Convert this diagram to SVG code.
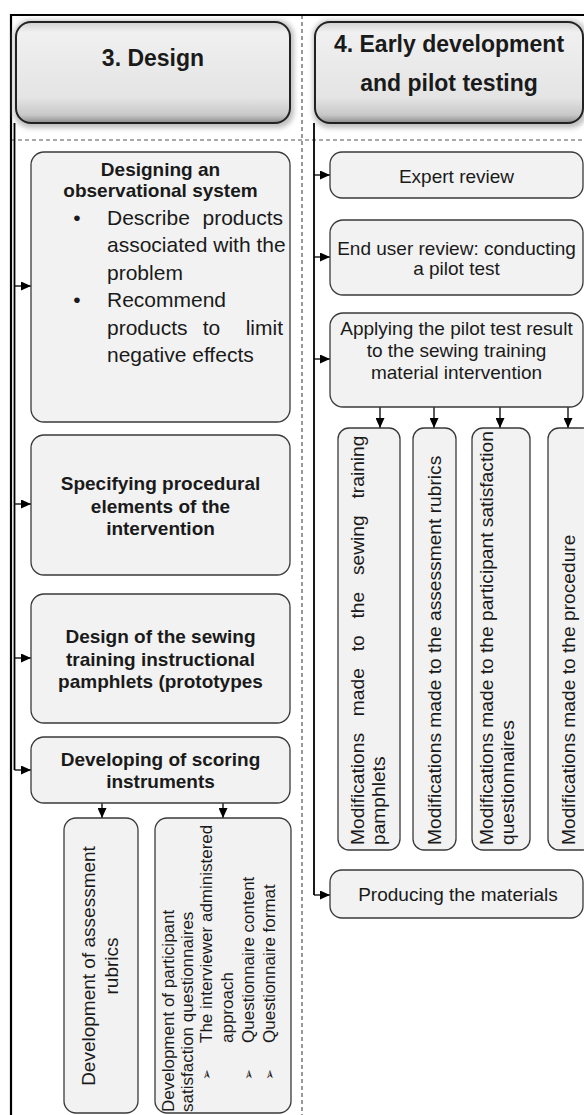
<svg xmlns="http://www.w3.org/2000/svg" width="584" height="1115" viewBox="0 0 584 1115">
<defs>
  <linearGradient id="hdrg" x1="0" y1="0" x2="0" y2="1">
    <stop offset="0" stop-color="#cfcfcf"/>
    <stop offset="0.1" stop-color="#f0f0f0"/>
    <stop offset="0.75" stop-color="#e4e4e4"/>
    <stop offset="0.92" stop-color="#c8c8c8"/>
    <stop offset="1" stop-color="#8c8c8c"/>
  </linearGradient>
  <filter id="sh" x="-10%" y="-20%" width="120%" height="140%">
    <feGaussianBlur stdDeviation="2.5"/>
  </filter>
  <marker id="ah" viewBox="0 0 10 9" refX="10" refY="4.5" markerWidth="10" markerHeight="9" markerUnits="userSpaceOnUse" orient="auto">
    <path d="M0,0 L10,4.5 L0,9 z" fill="#000"/>
  </marker>
</defs>
<style>
  .box{fill:#f2f2f2;stroke:#3a3a3a;stroke-width:1.3}
  .hdr{fill:url(#hdrg);stroke:#222;stroke-width:2}
  .shd{fill:#c0c0c0;filter:url(#sh)}
  .t{font-family:"Liberation Sans",Arial,sans-serif;fill:#1a1a1a}
  .h{font-size:23px;font-weight:bold;text-anchor:middle}
  .bt{font-size:19px;font-weight:bold;text-anchor:middle}
  .rt{font-size:19px;text-anchor:middle}
  .bl{font-size:21px}
  .mt{font-size:19.2px}
  .st{font-size:17px}
  .bul{font-family:"DejaVu Sans",sans-serif;font-size:13px;fill:#222}
  .con{fill:none;stroke:#000;stroke-width:1.8}
  .arr{fill:none;stroke:#000;stroke-width:1.3;marker-end:url(#ah)}
  .frame{fill:none;stroke:#000;stroke-width:2.2}
  .dash{fill:none;stroke:#555;stroke-width:1.2;stroke-dasharray:4 3}
</style>

<g id="frame">
  <path class="dash" d="M11,140 H584"/>
  <path class="dash" d="M302,15 V1115"/>
  <path class="frame" d="M11,1115 V15 H584"/>
</g>

<g id="header-design">
  <rect class="shd" x="14" y="20" width="280" height="108" rx="16"/>
  <rect class="hdr" x="16" y="22" width="274" height="101" rx="15"/>
  <text class="t h" x="153" y="66">3. Design</text>
</g>

<g id="header-early">
  <rect class="shd" x="313" y="20" width="274" height="108" rx="16"/>
  <rect class="hdr" x="315" y="22" width="268" height="101" rx="15"/>
  <text class="t h" x="449" y="52">4. Early development</text>
  <text class="t h" x="449" y="91">and pilot testing</text>
</g>

<g id="connectors">
  <path class="con" d="M14.5,123 V770"/>
  <path class="arr" d="M14.5,286 H31"/>
  <path class="arr" d="M14.5,504 H31"/>
  <path class="arr" d="M14.5,658 H31"/>
  <path class="arr" d="M14.5,770 H31"/>
  <path class="arr" d="M102,803 V818"/>
  <path class="arr" d="M223,803 V818"/>
  <path class="con" d="M314,123 V895"/>
  <path class="arr" d="M314,175 H330"/>
  <path class="arr" d="M314,257 H330"/>
  <path class="arr" d="M314,359 H330"/>
  <path class="arr" d="M314,895 H330"/>
  <path class="arr" d="M380,407 V428"/>
  <path class="arr" d="M434,407 V428"/>
  <path class="arr" d="M500,407 V428"/>
  <path class="arr" d="M568,407 V428"/>
</g>

<g id="designing-observational">
  <rect class="box" x="31" y="152" width="259" height="270" rx="13"/>
  <text class="t bt" x="160.5" y="176">Designing an</text>
  <text class="t bt" x="160.5" y="197">observational system</text>
  <text class="t bl" x="77" y="225" text-anchor="middle">•</text>
  <text class="t bl" x="107" y="225">Describe</text>
  <text class="t bl" x="283" y="225" text-anchor="end">products</text>
  <text class="t bl" x="107" y="252">associated with the</text>
  <text class="t bl" x="107" y="279.5">problem</text>
  <text class="t bl" x="77" y="307" text-anchor="middle">•</text>
  <text class="t bl" x="107" y="307">Recommend</text>
  <text class="t bl" x="107" y="334.5">products</text>
  <text class="t bl" x="211.5" y="334.5" text-anchor="middle">to</text>
  <text class="t bl" x="283" y="334.5" text-anchor="end">limit</text>
  <text class="t bl" x="107" y="362">negative effects</text>
</g>

<g id="specifying">
  <rect class="box" x="31" y="435" width="259" height="140" rx="13"/>
  <text class="t bt" x="160.5" y="490">Specifying procedural</text>
  <text class="t bt" x="160.5" y="512.5">elements of the</text>
  <text class="t bt" x="160.5" y="535">intervention</text>
</g>

<g id="design-pamphlets">
  <rect class="box" x="31" y="594" width="259" height="129" rx="13"/>
  <text class="t bt" x="160.5" y="642.5">Design of the sewing</text>
  <text class="t bt" x="160.5" y="665.5">training instructional</text>
  <text class="t bt" x="160.5" y="688">pamphlets (prototypes</text>
</g>

<g id="developing-scoring">
  <rect class="box" x="31" y="737" width="259" height="66" rx="13"/>
  <text class="t bt" x="160.5" y="766">Developing of scoring</text>
  <text class="t bt" x="160.5" y="788">instruments</text>
</g>

<g id="assessment-rubrics">
  <rect class="box" x="64" y="818" width="74" height="295" rx="12"/>
  <g transform="rotate(-90)">
    <text class="t rt" x="-966" y="95">Development of assessment</text>
    <text class="t rt" x="-966" y="118">rubrics</text>
  </g>
</g>

<g id="satisfaction-questionnaires">
  <rect class="box" x="155" y="818" width="136" height="295" rx="12"/>
  <g transform="rotate(-90)">
    <text class="t st" x="-1112" y="174">Development of participant</text>
    <text class="t st" x="-1112" y="193">satisfaction questionnaires</text>
    <text class="bul" x="-1080" y="211">➢</text>
    <text class="t st" x="-1043" y="212">The interviewer administered</text>
    <text class="t st" x="-1043" y="233">approach</text>
    <text class="bul" x="-1080" y="253">➢</text>
    <text class="t st" x="-1043" y="254">Questionnaire content</text>
    <text class="bul" x="-1080" y="274">➢</text>
    <text class="t st" x="-1043" y="275">Questionnaire format</text>
  </g>
</g>

<g id="expert-review">
  <rect class="box" x="330" y="152" width="253" height="46" rx="12"/>
  <text class="t rt" x="456.5" y="182.5">Expert review</text>
</g>

<g id="end-user-review">
  <rect class="box" x="330" y="220" width="253" height="75" rx="13"/>
  <text class="t rt" x="456.5" y="255">End user review: conducting</text>
  <text class="t rt" x="456.5" y="275">a pilot test</text>
</g>

<g id="applying-pilot">
  <rect class="box" x="330" y="313" width="253" height="94" rx="13"/>
  <text class="t rt" x="456.5" y="335">Applying the pilot test result</text>
  <text class="t rt" x="456.5" y="357">to the sewing training</text>
  <text class="t rt" x="456.5" y="378.5">material intervention</text>
</g>

<g id="mod-pamphlets">
  <rect class="box" x="338" y="428" width="62" height="422" rx="11"/>
  <g transform="rotate(-90)">
    <text class="t mt" x="-845" y="364" word-spacing="11.5">Modifications made to the sewing training</text>
    <text class="t mt" x="-845" y="385">pamphlets</text>
  </g>
</g>

<g id="mod-rubrics">
  <rect class="box" x="413" y="428" width="43" height="422" rx="11"/>
  <g transform="rotate(-90)">
    <text class="t mt" x="-845" y="441">Modifications made to the assessment rubrics</text>
  </g>
</g>

<g id="mod-questionnaires">
  <rect class="box" x="472" y="428" width="58" height="422" rx="11"/>
  <g transform="rotate(-90)">
    <text class="t mt" x="-845" y="493">Modifications made to the participant satisfaction</text>
    <text class="t mt" x="-845" y="514">questionnaires</text>
  </g>
</g>

<g id="mod-procedure">
  <rect class="box" x="548" y="428" width="46" height="422" rx="11"/>
  <g transform="rotate(-90)">
    <text class="t mt" x="-845" y="575">Modifications made to the procedure</text>
  </g>
</g>

<g id="producing-materials">
  <rect class="box" x="330" y="870" width="253" height="48" rx="12"/>
  <text class="t rt" x="458" y="901">Producing the materials</text>
</g>
</svg>
